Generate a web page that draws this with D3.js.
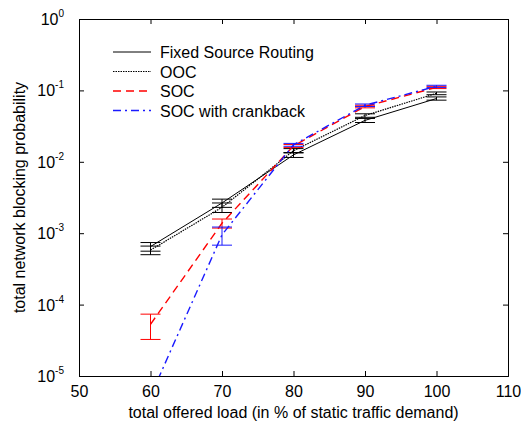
<!DOCTYPE html>
<html>
<head>
<meta charset="utf-8">
<script src="https://cdn.jsdelivr.net/npm/d3@7"></script>
<style>
  body { margin: 0; background: #fff; }
  text { font-family: "Liberation Sans", Arial, sans-serif; fill: #000; }
</style>
</head>
<body>
<div id="chart"></div>
<script>
// data
var loads = [60, 70, 80, 90, 100];
var fixedVals = [6.5e-4, 2.65e-3, 1.25e-2, 3.8e-2, 7.7e-2];
var fixedErr = [0.9e-4, 0.35e-3, 1.0e-3, 2.5e-3, 4.0e-3];
var oocVals = [5.8e-4, 2.3e-3, 1.43e-2, 4.45e-2, 9.1e-2];
var oocErr = [0.8e-4, 0.35e-3, 1.0e-3, 2.5e-3, 4.0e-3];
var socVals = [5.3e-5, 1.38e-3, 1.67e-2, 5.95e-2, 0.11];
var socErr = [2.05e-5, 0.2e-3, 0.8e-3, 2.5e-3, 4.0e-3];
var crankVals = [5.2e-6, 9.5e-4, 1.73e-2, 6.2e-2, 0.114];
var crankErr = [0, 2.7e-4, 0.8e-3, 2.5e-3, 4.0e-3];
var xTicks = [50, 60, 70, 80, 90, 100, 110];
var yExps = [0, -1, -2, -3, -4, -5];

var series = [
  { name: "Fixed Source Routing", vals: fixedVals, err: fixedErr, color: "#000", dash: null, w: 1 },
  { name: "OOC", vals: oocVals, err: oocErr, color: "#000", dash: "1.5,1", w: 1.2 },
  { name: "SOC", vals: socVals, err: socErr, color: "#f00", dash: "8,5", w: 1.4 },
  { name: "SOC with crankback", vals: crankVals, err: crankErr, color: "#1a1aff", dash: "8,4,2,4", w: 1.4 }
];

var width = 521, height = 424;
// plot box (window.top is reserved, so use other names)
var pLeft = 79, pRight = 508, pTop = 19, pBottom = 376;

var svg = d3.select("#chart").append("svg")
  .attr("width", width)
  .attr("height", height);

var x = d3.scaleLinear().domain([50, 110]).range([pLeft, pRight]);
var y = d3.scaleLog().domain([1e-5, 1]).range([pBottom, pTop]);

svg.append("defs").append("clipPath").attr("id", "plotClip")
  .append("rect")
  .attr("x", pLeft).attr("y", pTop)
  .attr("width", pRight - pLeft).attr("height", pBottom - pTop);

// axes with inward ticks on all four sides
var xAxisB = d3.axisBottom(x).tickValues(xTicks).tickSize(-5).tickPadding(10);
var xAxisT = d3.axisTop(x).tickValues(xTicks).tickSize(-5).tickFormat("");
var yTickVals = yExps.map(function (e) { return Math.pow(10, e); });
var yAxisL = d3.axisLeft(y).tickValues(yTickVals).tickSize(-5).tickFormat("");
var yAxisR = d3.axisRight(y).tickValues(yTickVals).tickSize(-5).tickFormat("");

function styleAxis(g) {
  g.select(".domain").attr("stroke", "#000");
  g.selectAll(".tick line").attr("stroke", "#000");
  g.selectAll(".tick text").attr("font-size", 16).attr("font-family", "Liberation Sans, Arial, sans-serif");
}

svg.append("g").attr("transform", "translate(0," + pBottom + ")").call(xAxisB).call(styleAxis);
svg.append("g").attr("transform", "translate(0," + pTop + ")").call(xAxisT).call(styleAxis);
svg.append("g").attr("transform", "translate(" + pLeft + ",0)").call(yAxisL).call(styleAxis);
svg.append("g").attr("transform", "translate(" + pRight + ",0)").call(yAxisR).call(styleAxis);

// y tick labels as 10^n
var yLab = svg.append("g").selectAll("text").data(yExps).enter().append("text")
  .attr("x", 64)
  .attr("y", function (d) { return y(Math.pow(10, d)) + 6; })
  .attr("text-anchor", "end")
  .attr("font-size", 16);
yLab.append("tspan").text("10");
yLab.append("tspan").attr("dy", -8).attr("font-size", 10).text(function (d) { return d; });

// axis titles
svg.append("text")
  .attr("x", (pLeft + pRight) / 2)
  .attr("y", 418)
  .attr("text-anchor", "middle")
  .attr("font-size", 16)
  .text("total offered load (in % of static traffic demand)");

svg.append("text")
  .attr("transform", "translate(25," + (pTop + pBottom) / 2 + ")rotate(-90)")
  .attr("text-anchor", "middle")
  .attr("font-size", 16)
  .text("total network blocking probability");

var plot = svg.append("g").attr("clip-path", "url(#plotClip)");

var line = d3.line()
  .x(function (d) { return x(d[0]); })
  .y(function (d) { return y(d[1]); });

var capHalf = 10;

series.forEach(function (s) {
  var pts = loads.map(function (l, i) { return [l, s.vals[i]]; });
  plot.append("path")
    .datum(pts)
    .attr("d", line)
    .attr("fill", "none")
    .attr("stroke", s.color)
    .attr("stroke-width", s.w)
    .attr("stroke-dasharray", s.dash);

  // error bars
  loads.forEach(function (l, i) {
    if (!s.err[i]) return;
    var lo = s.vals[i] - s.err[i], hi = s.vals[i] + s.err[i];
    var cx = x(l);
    var g = plot.append("g").attr("stroke", s.color).attr("stroke-width", 1);
    g.append("line").attr("x1", cx).attr("x2", cx).attr("y1", y(lo)).attr("y2", y(hi));
    g.append("line").attr("x1", cx - capHalf).attr("x2", cx + capHalf).attr("y1", y(lo)).attr("y2", y(lo));
    g.append("line").attr("x1", cx - capHalf).attr("x2", cx + capHalf).attr("y1", y(hi)).attr("y2", y(hi));
  });
});

// legend
var legend = svg.append("g");
series.forEach(function (s, i) {
  var ly = 52 + i * 19.5;
  legend.append("line")
    .attr("x1", 113).attr("x2", 151)
    .attr("y1", ly).attr("y2", ly)
    .attr("stroke", s.color)
    .attr("stroke-width", s.w)
    .attr("stroke-dasharray", s.dash);
  legend.append("text")
    .attr("x", 160).attr("y", ly + 6)
    .attr("font-size", 16)
    .text(s.name);
});
</script>
</body>
</html>
